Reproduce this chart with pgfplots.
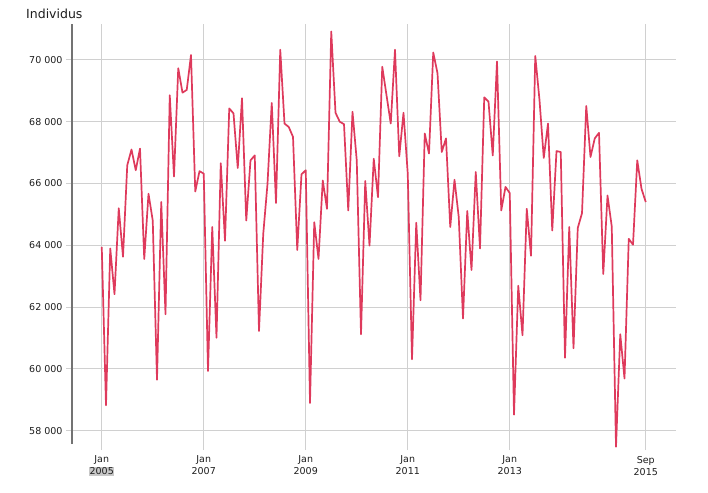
\documentclass[border=0pt]{standalone}
\usepackage{pgfplots}
\pgfplotsset{compat=1.18}
\usepackage{fontspec}
\setmainfont{DejaVu Sans}
\definecolor{linered}{RGB}{222,58,92}
\definecolor{gridgray}{RGB}{208,208,208}
\definecolor{axisgray}{RGB}{115,115,115}
\definecolor{txt}{RGB}{30,30,30}
\definecolor{hl}{RGB}{200,200,200}
\begin{document}
\begin{tikzpicture}
\begin{axis}[
  name=ax,
  scale only axis,
  width=603.5pt, height=419.6pt,
  xmin=-7, xmax=135,
  ymin=57570, ymax=71150,
  clip=false,
  axis lines*=left,
  x axis line style={draw=none},
  y axis line style={draw=axisgray, line width=1.6pt},
  xtick={0,24,48,72,96,128},
  xticklabels={{Jan\\\setlength{\fboxsep}{0.6pt}\colorbox{hl}{2005}},{Jan\\2007},{Jan\\2009},{Jan\\2011},{Jan\\2013},{Sep\\2015}},
  ytick={58000,60000,62000,64000,66000,68000,70000},
  xmajorgrids, ymajorgrids,
  grid style={draw=gridgray, line width=0.9pt},
  tick align=outside,
  major tick length=6pt,
  x tick style={draw=gridgray, line width=0.9pt},
  y tick style={draw=gridgray, line width=0.9pt},
  xticklabel style={align=center, font=\fontsize{9.5}{12}\selectfont, text=txt, yshift=-2.5pt},
  yticklabel style={font=\fontsize{9.5}{12}\selectfont, text=txt, /pgf/number format/.cd, fixed, 1000 sep={\ }, assume math mode=true},
  scaled y ticks=false,
]
\addplot[color=linered, line width=1.7pt, line join=round] coordinates {
(0,63950) (1,58820) (2,63900) (3,62420) (4,65200) (5,63630) (6,66590) (7,67100)
(8,66430) (9,67130) (10,63560) (11,65670) (12,64800) (13,59650) (14,65400) (15,61770)
(16,68860) (17,66230) (18,69730) (19,68940) (20,69030) (21,70160) (22,65740) (23,66400)
(24,66320) (25,59930) (26,64590) (27,61010) (28,66660) (29,64150) (30,68430) (31,68270)
(32,66500) (33,68760) (34,64800) (35,66750) (36,66910) (37,61230) (38,64370) (39,65990)
(40,68610) (41,65370) (42,70330) (43,67940) (44,67830) (45,67510) (46,63850) (47,66300)
(48,66430) (49,58900) (50,64750) (51,63560) (52,66100) (53,65180) (54,70920) (55,68290)
(56,68000) (57,67920) (58,65130) (59,68320) (60,66750) (61,61120) (62,66080) (63,63990)
(64,66800) (65,65560) (66,69780) (67,68860) (68,67940) (69,70330) (70,66880) (71,68290)
(72,66320) (73,60310) (74,64730) (75,62220) (76,67620) (77,66970) (78,70240) (79,69570)
(80,67020) (81,67460) (82,64590) (83,66120) (84,64910) (85,61630) (86,65110) (87,63200)
(88,66370) (89,63900) (90,68790) (91,68650) (92,66910) (93,69950) (94,65130) (95,65890)
(96,65690) (97,58520) (98,62690) (99,61090) (100,65180) (101,63660) (102,70130) (103,68700)
(104,66830) (105,67940) (106,64480) (107,67050) (108,67020) (109,60360) (110,64590) (111,60670)
(112,64560) (113,65040) (114,68510) (115,66860) (116,67460) (117,67640) (118,63070) (119,65610)
(120,64610) (121,57480) (122,61120) (123,59690) (124,64210) (125,64020) (126,66750) (127,65830)
(128,65400)
};
\end{axis}
\node[anchor=base west, font=\fontsize{12.5}{14}\selectfont, text=txt, inner sep=0pt] at ([shift={(-46pt,6pt)}]ax.north west) {Individus};
\pgfresetboundingbox
\path ([shift={(-72pt,-48pt)}]ax.south west) rectangle ([shift={(32.5pt,24.4pt)}]ax.north east);
\end{tikzpicture}
\end{document}
